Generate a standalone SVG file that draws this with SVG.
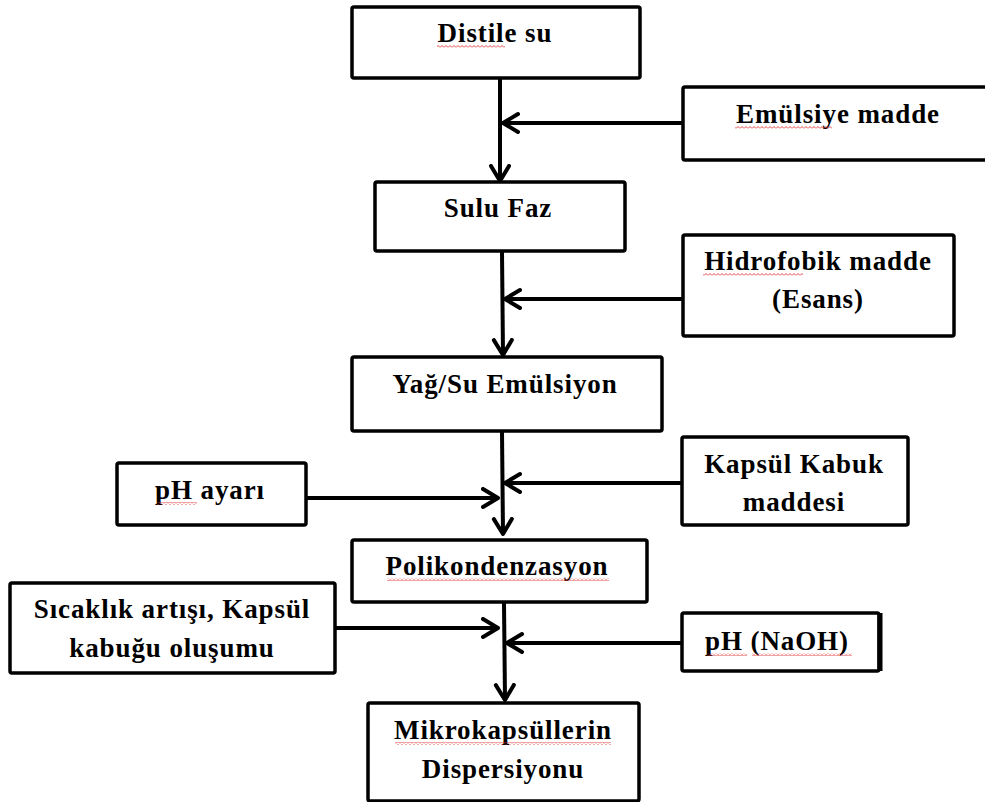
<svg xmlns="http://www.w3.org/2000/svg" width="985" height="802" viewBox="0 0 985 802">
<defs>
<style>
.box{fill:#fff;stroke:#000;stroke-width:3.5}
.t{font-family:"Liberation Serif","Times New Roman",serif;font-weight:bold;font-size:27px;letter-spacing:0.9px;fill:#000;text-anchor:middle}
.c{fill:none;stroke:#000;stroke-width:4}
.sq{fill:url(#wave)}
</style>
<marker id="ah" markerUnits="userSpaceOnUse" markerWidth="22" markerHeight="24" refX="17" refY="11" orient="auto" viewBox="0 0 22 24">
<path d="M2,2 L17,11 L2,20" fill="none" stroke="#000" stroke-width="4" stroke-linecap="round" stroke-linejoin="round"/>
</marker>
<pattern id="wave" patternUnits="userSpaceOnUse" width="4" height="3">
<path d="M0,2.5 L2,0.5 L4,2.5" fill="none" stroke="#e03030" stroke-width="0.9"/>
</pattern>
</defs>
<rect width="985" height="802" fill="#fff"/>
<g id="connectors">
<line class="c" x1="500" y1="79" x2="500" y2="181" marker-end="url(#ah)"/>
<line class="c" x1="502" y1="252" x2="503" y2="355" marker-end="url(#ah)"/>
<line class="c" x1="502" y1="432" x2="503" y2="534" marker-end="url(#ah)"/>
<line class="c" x1="504" y1="603" x2="505" y2="700" marker-end="url(#ah)"/>
<line class="c" x1="683" y1="123" x2="503" y2="123" marker-end="url(#ah)"/>
<line class="c" x1="683" y1="299" x2="505" y2="299" marker-end="url(#ah)"/>
<line class="c" x1="682" y1="483" x2="505" y2="483" marker-end="url(#ah)"/>
<line class="c" x1="306" y1="498" x2="498" y2="498" marker-end="url(#ah)"/>
<line class="c" x1="335" y1="628" x2="498" y2="628" marker-end="url(#ah)"/>
<line class="c" x1="682" y1="643" x2="507" y2="643" marker-end="url(#ah)"/>
</g>
<g id="distile-su">
<rect class="box" x="352" y="7" width="288" height="71" rx="2"/>
<text class="t" x="495" y="42">Distile su</text>
<rect class="sq" x="437" y="45" width="68" height="3"/>
</g>
<g id="emulsiye-madde">
<rect class="box" x="683" y="87" width="310" height="73" rx="2"/>
<text class="t" x="838" y="123">Emülsiye madde</text>
<rect class="sq" x="735" y="126" width="97" height="3"/>
</g>
<g id="sulu-faz">
<rect class="box" x="375" y="182" width="250" height="69" rx="2"/>
<text class="t" x="498" y="217">Sulu Faz</text>
</g>
<g id="hidrofobik-madde">
<rect class="box" x="683" y="235" width="271" height="101" rx="2"/>
<text class="t" x="818" y="270">Hidrofobik madde</text>
<text class="t" x="818" y="308">(Esans)</text>
<rect class="sq" x="703" y="273" width="100" height="3"/>
</g>
<g id="yag-su-emulsiyon">
<rect class="box" x="352" y="357" width="310" height="74" rx="2"/>
<text class="t" x="505" y="393">Yağ/Su Emülsiyon</text>
</g>
<g id="ph-ayari">
<rect class="box" x="117" y="463" width="189" height="62" rx="2"/>
<text class="t" x="210" y="499">pH ayarı</text>
<rect class="sq" x="157" y="502" width="40" height="3"/>
</g>
<g id="kapsul-kabuk-maddesi">
<rect class="box" x="682" y="437" width="226" height="88" rx="2"/>
<text class="t" x="794" y="473">Kapsül Kabuk</text>
<text class="t" x="794" y="511">maddesi</text>
</g>
<g id="polikondenzasyon">
<rect class="box" x="352" y="540" width="295" height="62" rx="2"/>
<text class="t" x="497" y="575">Polikondenzasyon</text>
<rect class="sq" x="387" y="578" width="222" height="3"/>
</g>
<g id="sicaklik-artisi">
<rect class="box" x="10" y="583" width="325" height="90" rx="2"/>
<text class="t" x="172" y="618">Sıcaklık artışı, Kapsül</text>
<text class="t" x="172" y="657">kabuğu oluşumu</text>
</g>
<g id="ph-naoh">
<rect class="box" x="682" y="613" width="197" height="58" rx="2"/>
<line x1="880" y1="613" x2="880" y2="671" stroke="#000" stroke-width="5"/>
<text class="t" x="777" y="650">pH (NaOH)</text>
<rect class="sq" x="707" y="653" width="40" height="3"/>
<rect class="sq" x="752" y="653" width="100" height="3"/>
</g>
<g id="mikrokapsullerin-dispersiyonu">
<rect class="box" x="368" y="703" width="271" height="98" rx="2"/>
<text class="t" x="503" y="739">Mikrokapsüllerin</text>
<text class="t" x="503" y="778">Dispersiyonu</text>
<rect class="sq" x="395" y="742" width="216" height="3"/>
</g>
</svg>
